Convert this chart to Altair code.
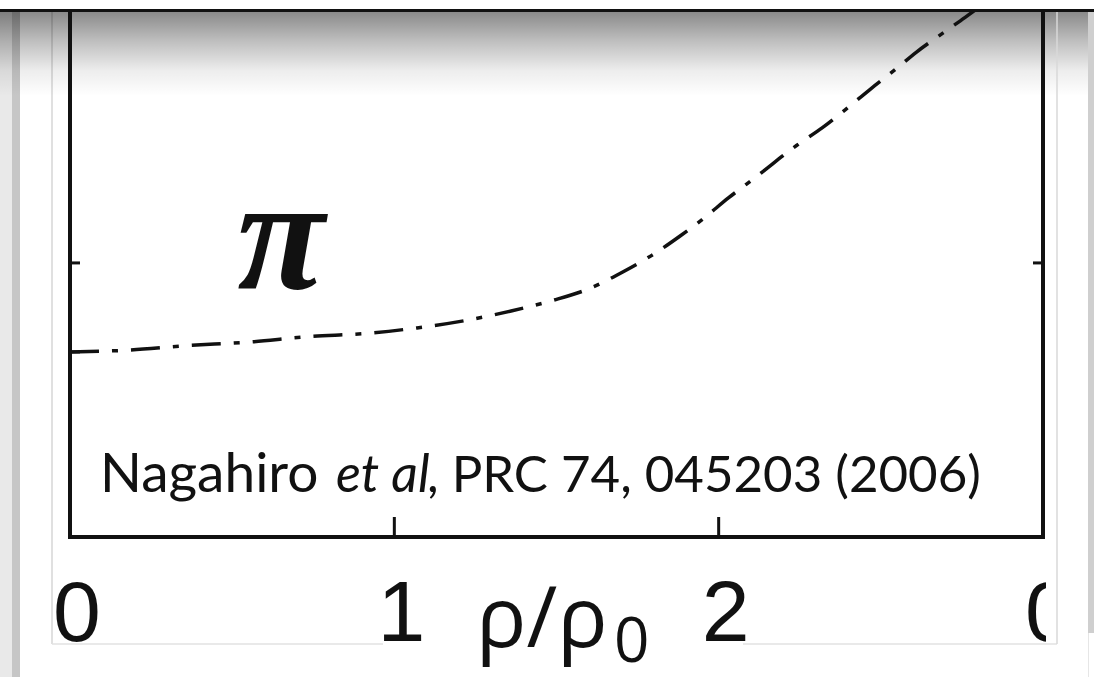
import altair as alt
import pandas as pd

# Density ratio rho/rho0 and the pion curve (mass axis in tick units)
rho = [0, 0.18, 0.36, 0.55, 0.73, 0.92, 1.07, 1.23, 1.36, 1.49, 1.6, 1.71, 1.8,
       1.88, 1.95, 2.03, 2.12, 2.24, 2.32, 2.39, 2.47, 2.54, 2.61, 2.69, 2.76, 2.82]
pion = [1.0, 1.02, 1.07, 1.11, 1.17, 1.21, 1.27, 1.36, 1.46, 1.58, 1.71, 1.91, 2.1,
        2.3, 2.49, 2.73, 2.98, 3.32, 3.52, 3.72, 3.96, 4.16, 4.37, 4.58, 4.76, 4.92]

# Axis ticks and labels
x_ticks = [1, 2]
x_label_pos = [0, 1, 2]
x_labels = ["0", "1", "2"]
next_panel_pos = [3]
next_panel_label = ["0"]
y_ticks_left = [1, 2]
y_ticks_right = [2]

curve_name = "π"
citation = ["Nagahiro", "et al", ", PRC 74, 045203 (2006)"]
x_title = ["ρ/ρ", "0"]

W, H = 973, 525
X = alt.Scale(domain=[0, 3], nice=False, zero=False)
Y = alt.Scale(domain=[-1.08, 4.82], nice=False, zero=False)

one = pd.DataFrame({"k": [0]})
curve_df = pd.DataFrame({"rho": rho, "m": pion})
xt_df = pd.DataFrame({"rho": x_ticks})
xl_df = pd.DataFrame({"rho": x_label_pos, "label": x_labels})
np_df = pd.DataFrame({"rho": next_panel_pos, "label": next_panel_label})
ytl_df = pd.DataFrame({"m": y_ticks_left})
ytr_df = pd.DataFrame({"m": y_ticks_right})


def box(x0, x1, y0, y1, color):
    # plot-area pixel box (origin at the plot's top-left corner)
    return alt.Chart(one).mark_rect(color=color).encode(
        x=alt.value(x0), x2=alt.value(x1), y=alt.value(y0), y2=alt.value(y1))


def line(x0, x1, y0, y1, color, w):
    return alt.Chart(one).mark_rule(color=color, strokeWidth=w).encode(
        x=alt.value(x0), x2=alt.value(x1), y=alt.value(y0), y2=alt.value(y1))


# slide surroundings
left_outer = box(-70, -58, 0, 665, "#e9e9e9")
left_inner = box(-58, -50, 0, 665, "#c6c6c6")
left_thin = line(-18, -18, 0, 632, "#d6d6d6", 1.5)
bottom_thin_a = line(-18, 313, 632, 632, "#e2e2e2", 1.5)
bottom_thin_b = line(673, 987, 632, 632, "#e2e2e2", 1.5)
right_thin = line(987, 987, 0, 632, "#d8d8d8", 1.5)
right_strip = box(1018, 1024, 0, 621, "#cfcfcf")
right_strip_low = line(1018.5, 1018.5, 621, 665, "#e6e6e6", 1)

shadow = alt.Chart(one).mark_rect(
    color=alt.LinearGradient(
        gradient="linear",
        stops=[
            alt.GradientStop(color="rgba(0,0,0,0.46)", offset=0),
            alt.GradientStop(color="rgba(0,0,0,0.25)", offset=0.35),
            alt.GradientStop(color="rgba(0,0,0,0.07)", offset=0.7),
            alt.GradientStop(color="rgba(0,0,0,0)", offset=1),
        ],
        x1=0, x2=0, y1=0, y2=1,
    )
).encode(x=alt.value(-70), x2=alt.value(1024), y=alt.value(0), y2=alt.value(84))

top_bar = box(-70, 1024, -3, 0, "#111111")

# frame
frame_left = line(0, 0, 0, H, "#111111", 4)
frame_right = line(W, W, 0, H, "#111111", 4)
frame_bottom = line(-2, W + 2, H, H, "#111111", 4)

tick_x = alt.Chart(xt_df).mark_rule(color="#111111", strokeWidth=3).encode(
    x=alt.X("rho:Q", scale=X, axis=None), y=alt.value(H - 20), y2=alt.value(H))
tick_yl = alt.Chart(ytl_df).mark_rule(color="#111111", strokeWidth=3).encode(
    y=alt.Y("m:Q", scale=Y, axis=None), x=alt.value(0), x2=alt.value(10))
tick_yr = alt.Chart(ytr_df).mark_rule(color="#111111", strokeWidth=3).encode(
    y=alt.Y("m:Q", scale=Y, axis=None), x=alt.value(W - 10), x2=alt.value(W))

curve = alt.Chart(curve_df).mark_line(
    color="#111111", strokeWidth=3.5, strokeDash=[29, 13, 6, 13],
    interpolate="monotone", clip=True, strokeCap="butt"
).encode(
    x=alt.X("rho:Q", scale=X, axis=None),
    y=alt.Y("m:Q", scale=Y, axis=None),
)

pi_label = alt.Chart(one).mark_text(
    text=curve_name, font="Liberation Serif", fontSize=160, fontWeight="bold",
    fontStyle="italic", align="center", baseline="alphabetic", color="#111111"
).encode(x=alt.value(211), y=alt.value(276))

cite_a = alt.Chart(one).mark_text(
    text=citation[0], font="Lato", fontSize=55, align="left",
    baseline="alphabetic", color="#111111"
).encode(x=alt.value(30), y=alt.value(480))
cite_b = alt.Chart(one).mark_text(
    text=citation[1], font="Lato", fontSize=52, fontStyle="italic", align="left",
    baseline="alphabetic", color="#111111"
).encode(x=alt.value(266), y=alt.value(480))
cite_c = alt.Chart(one).mark_text(
    text=citation[2], font="Lato", fontSize=51, align="left",
    baseline="alphabetic", color="#111111"
).encode(x=alt.value(357), y=alt.value(480))

x_tick_labels = alt.Chart(xl_df).mark_text(
    font="Liberation Sans", fontSize=86, align="center", baseline="alphabetic",
    dx=7, color="#111111"
).encode(x=alt.X("rho:Q", scale=X, axis=None), y=alt.value(629), text="label:N")

next_label = alt.Chart(np_df).mark_text(
    font="Liberation Sans", fontSize=86, align="center", baseline="alphabetic",
    dx=6, color="#111111"
).encode(x=alt.X("rho:Q", scale=X, axis=None), y=alt.value(629), text="label:N")

# the picture ends just right of the frame
edge = box(W + 3, 1017, 536, 630, "#ffffff")

title_main = alt.Chart(one).mark_text(
    text=x_title[0], font="Open Sans", fontSize=84, align="left",
    baseline="alphabetic", color="#111111"
).encode(x=alt.value(406), y=alt.value(635))
title_sub = alt.Chart(one).mark_text(
    text=x_title[1], font="Open Sans", fontSize=62, align="left",
    baseline="alphabetic", color="#111111"
).encode(x=alt.value(544), y=alt.value(650))

chart = alt.layer(
    left_outer, left_inner, left_thin, bottom_thin_a, bottom_thin_b,
    shadow, top_bar,
    frame_left, frame_right, frame_bottom, tick_x, tick_yl, tick_yr,
    curve, pi_label, cite_a, cite_b, cite_c,
    x_tick_labels, next_label, edge, right_thin, right_strip, right_strip_low,
    title_main, title_sub,
).properties(
    width=W, height=H,
    padding={"left": 70, "top": 12, "right": 51, "bottom": 140},
    autosize="none", background="#ffffff",
).configure_view(stroke=None)

chart.save("out.html", embed_options={"renderer": "svg", "actions": False})
